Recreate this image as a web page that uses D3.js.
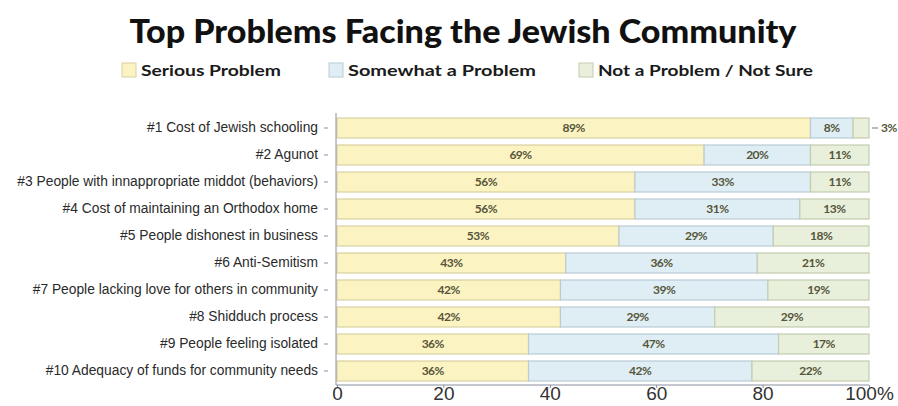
<!DOCTYPE html>
<html lang="en">
<head>
    <meta charset="UTF-8">
    <title>Top Problems Facing the Jewish Community</title>
    <script src="https://d3js.org/d3.v7.min.js"></script>
    <style>
        body {
            margin: 0;
            background: #fff;
            font-family: Lato, "Open Sans", sans-serif;
        }
        .axis path, .axis line {
            stroke: #8a8fa0;
        }
        .cat-axis text {
            font-size: 13.8px;
            fill: #2a2a2a;
        }
        .x-axis text {
            font-size: 19px;
            fill: #333;
        }
    </style>
</head>
<body>
    <svg id="chart" width="898" height="406"></svg>

    <script>
        // Categories (top to bottom)
        const categories = [
            "#1 Cost of Jewish schooling",
            "#2 Agunot",
            "#3 People with innappropriate middot (behaviors)",
            "#4 Cost of maintaining an Orthodox home",
            "#5 People dishonest in business",
            "#6 Anti-Semitism",
            "#7 People lacking love for others in community",
            "#8 Shidduch process",
            "#9 People feeling isolated",
            "#10 Adequacy of funds for community needs"
        ];

        // Series values (%)
        const serious  = [89, 69, 56, 56, 53, 43, 42, 42, 36, 36];
        const somewhat = [8, 20, 33, 31, 29, 36, 39, 29, 47, 42];
        const notProb  = [3, 11, 11, 13, 18, 21, 19, 29, 17, 22];

        const seriesNames = ["Serious Problem", "Somewhat a Problem", "Not a Problem / Not Sure"];
        const xTicks = [0, 20, 40, 60, 80, 100];

        const fills   = ["#fcf3c2", "#dfeef4", "#e8efda"];
        const strokes = ["#d9d1a2", "#b9cbd6", "#c3cdae"];

        const svg = d3.select("#chart");

        // Build rows for stacking
        const rows = categories.map((c, i) => ({
            cat: c,
            "Serious Problem": serious[i],
            "Somewhat a Problem": somewhat[i],
            "Not a Problem / Not Sure": notProb[i]
        }));
        const series = d3.stack().keys(seriesNames)(rows);

        const x = d3.scaleLinear().domain([0, 100]).range([337, 869]);
        const y = d3.scaleBand().domain(categories).range([114.5, 384.5]).paddingInner(0.26).paddingOuter(0.13);

        // Title
        svg.append("text")
            .attr("x", 463)
            .attr("y", 43)
            .attr("text-anchor", "middle")
            .attr("font-size", "32px")
            .attr("font-weight", "900")
            .attr("fill", "#111")
            .attr("textLength", 667)
            .attr("lengthAdjust", "spacingAndGlyphs")
            .text("Top Problems Facing the Jewish Community");

        // Legend
        const legendX = [122, 329, 579];
        const legendW = [140, 188, 215];
        seriesNames.forEach((name, i) => {
            svg.append("rect")
                .attr("x", legendX[i]).attr("y", 63)
                .attr("width", 14).attr("height", 14)
                .attr("fill", fills[i])
                .attr("stroke", strokes[i]);
            svg.append("text")
                .attr("x", legendX[i] + 19).attr("y", 75.5)
                .attr("font-size", "15px")
                .attr("font-weight", "bold")
                .attr("fill", "#1a1a1a")
                .attr("textLength", legendW[i])
                .attr("lengthAdjust", "spacingAndGlyphs")
                .text(name);
        });

        // Bars
        const layer = svg.selectAll("g.layer")
            .data(series)
            .enter().append("g")
            .attr("class", "layer");

        layer.selectAll("rect")
            .data((d, i) => d.map(p => ({ p, i })))
            .enter().append("rect")
            .attr("x", d => x(d.p[0]))
            .attr("y", d => y(d.p.data.cat))
            .attr("width", d => x(d.p[1]) - x(d.p[0]))
            .attr("height", y.bandwidth())
            .attr("fill", d => fills[d.i])
            .attr("stroke", d => strokes[d.i])
            .attr("stroke-width", 1.2);

        // Value labels
        layer.selectAll("text")
            .data((d, i) => d.map(p => ({ p, i })))
            .enter().append("text")
            .attr("x", d => {
                const v = d.p[1] - d.p[0];
                return v < 5 ? x(d.p[1]) + 12 : (x(d.p[0]) + x(d.p[1])) / 2;
            })
            .attr("y", d => y(d.p.data.cat) + y.bandwidth() / 2 + 4)
            .attr("text-anchor", d => (d.p[1] - d.p[0]) < 5 ? "start" : "middle")
            .attr("font-size", "12px")
            .attr("font-weight", "bold")
            .attr("fill", "#55553a")
            .attr("letter-spacing", "-0.5px")
            .text(d => (d.p[1] - d.p[0]) + "%");

        // small leader dash for outside labels
        series[2].forEach(p => {
            if (p[1] - p[0] < 5) {
                svg.append("line")
                    .attr("x1", x(p[1]) + 3).attr("x2", x(p[1]) + 9)
                    .attr("y1", y(p.data.cat) + y.bandwidth() / 2)
                    .attr("y2", y(p.data.cat) + y.bandwidth() / 2)
                    .attr("stroke", "#777");
            }
        });

        // Category axis
        const catAxis = svg.append("g")
            .attr("class", "axis cat-axis")
            .attr("transform", "translate(336,0)")
            .call(d3.axisLeft(y).tickSize(0).tickPadding(18));
        catAxis.select(".domain").attr("d", "M0,113V385");
        catAxis.selectAll(".tick").append("line")
            .attr("x1", -12).attr("x2", -8)
            .attr("stroke", "#777");

        // X axis
        const xAxis = svg.append("g")
            .attr("class", "axis x-axis")
            .attr("transform", "translate(0,385)")
            .call(d3.axisBottom(x).tickValues(xTicks).tickSize(3).tickPadding(1)
                .tickFormat(d => d === 100 ? "100%" : d));
        xAxis.select(".domain").attr("d", "M336,0H869");
        xAxis.selectAll(".tick text").attr("dy", "0.6em");
    </script>
</body>
</html>
